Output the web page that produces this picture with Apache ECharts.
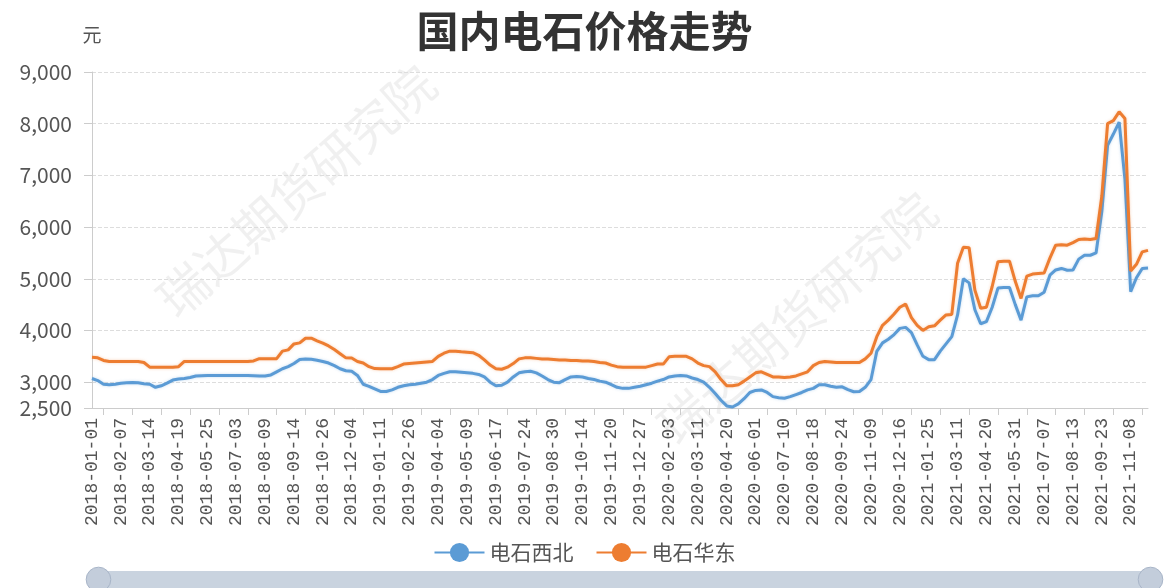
<!DOCTYPE html>
<html>
<head>
<meta charset="utf-8">
<title>国内电石价格走势</title>
<script src="https://cdn.jsdelivr.net/npm/echarts@6/dist/echarts.min.js"></script>
<style>
  html, body { margin: 0; padding: 0; background: #fff; }
  #chart { width: 1169px; height: 588px; }
</style>
</head>
<body>
<div id="chart"></div>
<script>
  // categories: one label every 5 points
  const dates = [
    '2018-01-01','2018-01-08','2018-01-15','2018-01-22','2018-01-29',
    '2018-02-07','2018-02-13','2018-02-23','2018-03-01','2018-03-08',
    '2018-03-14','2018-03-21','2018-03-28','2018-04-04','2018-04-12',
    '2018-04-19','2018-04-26','2018-05-04','2018-05-11','2018-05-18',
    '2018-05-25','2018-06-01','2018-06-08','2018-06-15','2018-06-26',
    '2018-07-03','2018-07-10','2018-07-17','2018-07-25','2018-08-01',
    '2018-08-09','2018-08-16','2018-08-23','2018-08-30','2018-09-06',
    '2018-09-14','2018-09-21','2018-09-28','2018-10-12','2018-10-19',
    '2018-10-26','2018-11-02','2018-11-09','2018-11-19','2018-11-26',
    '2018-12-04','2018-12-11','2018-12-18','2018-12-25','2019-01-03',
    '2019-01-11','2019-01-18','2019-01-25','2019-02-01','2019-02-19',
    '2019-02-26','2019-03-05','2019-03-12','2019-03-19','2019-03-27',
    '2019-04-04','2019-04-11','2019-04-18','2019-04-25','2019-05-02',
    '2019-05-09','2019-05-16','2019-05-23','2019-05-30','2019-06-10',
    '2019-06-17','2019-06-24','2019-07-01','2019-07-08','2019-07-16',
    '2019-07-24','2019-07-31','2019-08-07','2019-08-15','2019-08-22',
    '2019-08-30','2019-09-06','2019-09-16','2019-09-23','2019-09-30',
    '2019-10-14','2019-10-21','2019-10-28','2019-11-05','2019-11-12',
    '2019-11-20','2019-11-27','2019-12-04','2019-12-11','2019-12-19',
    '2019-12-27','2020-01-03','2020-01-10','2020-01-17','2020-01-23',
    '2020-02-03','2020-02-10','2020-02-17','2020-02-24','2020-03-03',
    '2020-03-11','2020-03-18','2020-03-25','2020-04-01','2020-04-10',
    '2020-04-20','2020-04-27','2020-05-08','2020-05-15','2020-05-22',
    '2020-06-01','2020-06-08','2020-06-15','2020-06-23','2020-07-02',
    '2020-07-10','2020-07-17','2020-07-24','2020-07-31','2020-08-10',
    '2020-08-18','2020-08-25','2020-09-01','2020-09-08','2020-09-16',
    '2020-09-24','2020-10-09','2020-10-16','2020-10-23','2020-10-30',
    '2020-11-09','2020-11-16','2020-11-23','2020-11-30','2020-12-08',
    '2020-12-16','2020-12-23','2020-12-30','2021-01-08','2021-01-15',
    '2021-01-25','2021-02-01','2021-02-08','2021-02-22','2021-03-02',
    '2021-03-11','2021-03-18','2021-03-25','2021-04-01','2021-04-12',
    '2021-04-20','2021-04-27','2021-05-07','2021-05-14','2021-05-21',
    '2021-05-31','2021-06-07','2021-06-16','2021-06-23','2021-06-30',
    '2021-07-07','2021-07-14','2021-07-21','2021-07-28','2021-08-05',
    '2021-08-13','2021-08-20','2021-08-27','2021-09-03','2021-09-13',
    '2021-09-23','2021-09-30','2021-10-15','2021-10-22','2021-10-29',
    '2021-11-08','2021-11-15','2021-11-22','2021-11-29'
  ];

  // 电石西北
  const northwest = [
    3070,3030,2960,2950,2960, 2980,2990,2995,2990,2970,
    2960,2900,2930,2980,3040, 3060,3070,3090,3120,3125,
    3130,3130,3130,3130,3130, 3130,3130,3130,3125,3120,
    3120,3140,3200,3260,3300, 3360,3440,3450,3445,3425,
    3400,3370,3320,3260,3220, 3210,3130,2960,2920,2870,
    2820,2820,2850,2900,2930, 2950,2960,2980,3000,3050,
    3130,3170,3200,3200,3190, 3180,3170,3150,3100,3000,
    2930,2940,3000,3100,3180, 3200,3210,3180,3120,3050,
    3000,2990,3050,3100,3110, 3100,3070,3050,3020,3000,
    2950,2900,2880,2880,2900, 2920,2950,2980,3020,3050,
    3100,3120,3130,3120,3080, 3050,3000,2900,2780,2650,
    2540,2520,2580,2680,2800, 2840,2850,2800,2720,2700,
    2690,2720,2760,2800,2850, 2880,2950,2950,2920,2900,
    2910,2855,2815,2820,2900, 3050,3595,3760,3830,3920,
    4040,4060,3960,3720,3500, 3435,3435,3600,3740,3880,
    4300,5000,4920,4400,4130, 4170,4450,4820,4830,4830,
    4500,4200,4650,4670,4670, 4740,5070,5170,5200,5165,
    5170,5380,5455,5455,5500, 6300,7580,7800,8030,6930,
    4750,5020,5200,5210
  ];

  // 电石华东
  const eastChina = [
    3480,3470,3420,3400,3400, 3400,3400,3400,3400,3380,
    3290,3290,3290,3290,3290, 3300,3400,3400,3400,3400,
    3400,3400,3400,3400,3400, 3400,3400,3400,3410,3455,
    3455,3455,3455,3600,3625, 3740,3760,3850,3850,3800,
    3755,3700,3630,3550,3470, 3467,3400,3371,3300,3262,
    3260,3260,3260,3300,3350, 3360,3370,3380,3390,3400,
    3500,3560,3600,3600,3590, 3580,3570,3520,3430,3330,
    3260,3250,3290,3360,3450, 3470,3470,3460,3450,3450,
    3440,3430,3430,3420,3420, 3410,3410,3400,3380,3370,
    3330,3300,3290,3290,3290, 3290,3290,3320,3350,3350,
    3490,3500,3500,3500,3450, 3370,3320,3300,3200,3050,
    2930,2930,2950,3020,3100, 3180,3200,3150,3100,3100,
    3090,3100,3120,3160,3200, 3320,3380,3400,3390,3380,
    3380,3380,3380,3380,3450, 3560,3880,4100,4200,4320,
    4450,4510,4250,4100,4000, 4070,4090,4200,4300,4310,
    5300,5610,5600,4780,4430, 4450,4850,5330,5340,5340,
    4950,4620,5050,5090,5100, 5110,5400,5650,5660,5650,
    5700,5760,5770,5760,5780, 6600,8000,8060,8230,8100,
    5150,5280,5520,5550
  ];

  const seriesNames = ['电石西北', '电石华东'];
  const colors = ['#5b9bd5', '#ed7d31'];
  const watermark = '瑞达期货研究院';

  const font = '"Noto Sans CJK SC", "Microsoft YaHei", sans-serif';

  let chart = echarts.init(document.getElementById('chart'));

  let option = {
    color: colors,
    textStyle: { fontFamily: font },
    title: {
      text: '国内电石价格走势',
      left: 'center',
      top: 5,
      textStyle: { fontSize: 42, fontWeight: 'bold', color: '#333', fontFamily: font }
    },
    tooltip: { trigger: 'axis' },
    legend: {
      data: seriesNames,
      left: 'center',
      top: 537,
      itemWidth: 50,
      itemHeight: 24,
      itemGap: 22,
      textStyle: { fontSize: 21, color: '#555' }
    },
    grid: { left: 92, right: 21, top: 72, bottom: 180 },
    graphic: [
      {
        type: 'text', x: 296, y: 191, rotation: 0.72, silent: true, z: 0,
        style: { text: watermark, fontSize: 50, fill: 'rgba(0,0,0,0.06)', textAlign: 'center', textVerticalAlign: 'middle', fontFamily: font }
      },
      {
        type: 'text', x: 797, y: 318, rotation: 0.72, silent: true, z: 0,
        style: { text: watermark, fontSize: 50, fill: 'rgba(0,0,0,0.06)', textAlign: 'center', textVerticalAlign: 'middle', fontFamily: font }
      }
    ],
    xAxis: {
      type: 'category',
      data: dates,
      boundaryGap: false,
      axisLine: { lineStyle: { color: '#ccc' } },
      axisTick: {
        interval: function (index) { return index % 5 === 2; },
        length: 7,
        lineStyle: { color: '#ccc' }
      },
      axisLabel: {
        interval: 4,
        rotate: 90,
        margin: 10,
        fontSize: 18,
        fontFamily: '"Liberation Mono", "DejaVu Sans Mono", monospace',
        color: '#555'
      }
    },
    yAxis: {
      type: 'value',
      name: '元',
      min: 2500,
      max: 9000,
      nameGap: 28,
      nameTextStyle: { fontSize: 19, color: '#555', align: 'center' },
      axisLine: { show: true, lineStyle: { color: '#ccc' } },
      axisTick: { show: true, length: 8, lineStyle: { color: '#ccc' } },
      axisLabel: { fontSize: 21, color: '#555', margin: 20 },
      splitLine: { lineStyle: { type: 'dashed', color: '#ddd' } }
    },
    dataZoom: [
      {
        type: 'slider',
        start: 0,
        end: 100,
        left: 96,
        right: 19,
        top: 571,
        height: 17,
        showDetail: false,
        showDataShadow: false,
        brushSelect: false,
        moveHandleSize: 0,
        borderColor: 'transparent',
        backgroundColor: 'rgba(200,208,220,0.45)',
        fillerColor: 'rgba(167,183,204,0.45)',
        handleIcon: 'circle',
        handleSize: '145%',
        handleStyle: { color: '#c3cddb', borderColor: '#a7b4c7', borderWidth: 1 }
      }
    ],
    series: [
      {
        name: seriesNames[0],
        type: 'line',
        data: northwest,
        symbol: 'circle',
        showSymbol: false,
        lineStyle: { width: 3, shadowColor: 'rgba(91,155,213,0.35)', shadowBlur: 3 }
      },
      {
        name: seriesNames[1],
        type: 'line',
        data: eastChina,
        symbol: 'circle',
        showSymbol: false,
        lineStyle: { width: 3, shadowColor: 'rgba(237,125,49,0.35)', shadowBlur: 3 }
      }
    ]
  };

  chart.setOption(option);
</script>
</body>
</html>
